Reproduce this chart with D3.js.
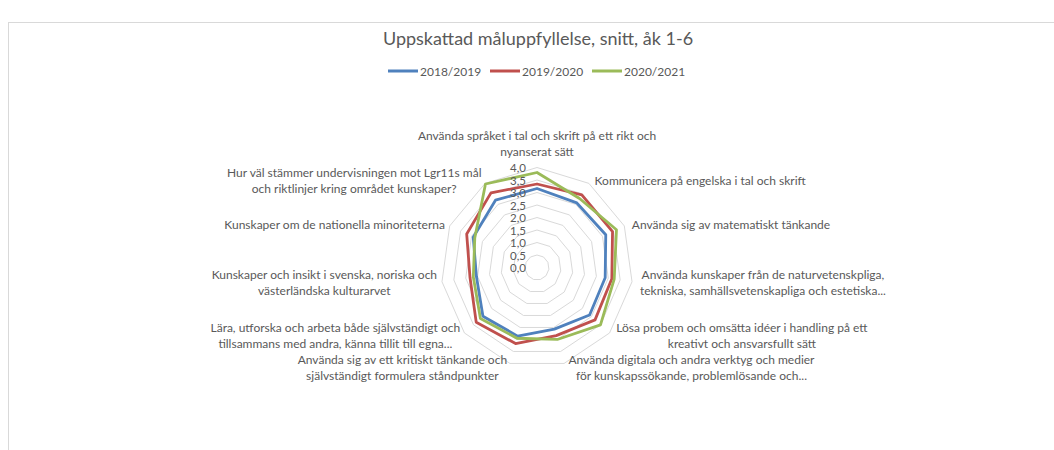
<!DOCTYPE html>
<html><head><meta charset="utf-8">
<script src="https://cdn.jsdelivr.net/npm/d3@7"></script>
<style>
body{margin:0;background:#fff}
svg text{font-family:Lato,'Liberation Sans',sans-serif;fill:#595959}
</style>
</head><body><svg id="c" width="1054" height="450"></svg>
<script>
const title = "Uppskattad måluppfyllelse, snitt, åk 1-6";
const categories = [
  "Använda språket i tal och skrift på ett rikt och\nnyanserat sätt",
  "Kommunicera på engelska i tal och skrift",
  "Använda sig av matematiskt tänkande",
  "Använda kunskaper från de naturvetenskpliga,\ntekniska, samhällsvetenskapliga och estetiska...",
  "Lösa probem och omsätta idéer i handling på ett\nkreativt och ansvarsfullt sätt",
  "Använda digitala och andra verktyg och medier\nför kunskapssökande, problemlösande och...",
  "Använda sig av ett kritiskt tänkande och\nsjälvständigt formulera ståndpunkter",
  "Lära, utforska och arbeta både självständigt och\ntillsammans med andra, känna tillit till egna...",
  "Kunskaper och insikt i svenska, noriska och\nvästerländska kulturarvet",
  "Kunskaper om de nationella minoriteterna",
  "Hur väl stämmer undervisningen mot Lgr11s mål\noch riktlinjer kring området kunskaper?"
];
const seriesNames = ["2018/2019", "2019/2020", "2020/2021"];
const values2018 = [3.16, 3.07, 3.15, 2.87, 2.90, 2.57, 2.86, 2.98, 2.55, 2.92, 3.20];
const values2019 = [3.34, 3.45, 3.46, 3.15, 3.20, 2.84, 3.17, 3.35, 2.82, 3.22, 3.55];
const values2020 = [3.80, 3.28, 3.64, 3.25, 3.50, 3.00, 2.95, 3.12, 2.68, 2.85, 3.97];
const tickValues = [0, 0.5, 1, 1.5, 2, 2.5, 3, 3.5, 4];
const colors = ["#4F81BD", "#C0504D", "#9BBB59"];

const svg = d3.select("#c");
const cx = 537, cy = 267.5;
const n = categories.length;
const rx = d3.scaleLinear().domain([0, 4]).range([0, 96]);
const ry = d3.scaleLinear().domain([0, 4]).range([0, 100]);
const ang = d3.scaleLinear().domain([0, n]).range([0, 2 * Math.PI]);
const px = (i, v) => cx + rx(v) * Math.sin(ang(i));
const py = (i, v) => cy - ry(v) * Math.cos(ang(i));

// frame
svg.append("rect").attr("x", 8.5).attr("y", 22.5).attr("width", 1100).attr("height", 500)
  .attr("fill", "none").attr("stroke", "#d9d9d9");

// title
svg.append("text").attr("x", 538).attr("y", 38).attr("text-anchor", "middle")
  .attr("dominant-baseline", "central").style("font-size", "18px").text(title);

// legend
const legX = d3.scalePoint().domain(seriesNames).range([388, 592]);
const leg = svg.append("g").selectAll("g").data(seriesNames).join("g")
  .attr("transform", d => `translate(${legX(d)},71)`);
leg.append("line").attr("x1", 0).attr("x2", 30).attr("stroke", (d, i) => colors[i]).attr("stroke-width", 3);
leg.append("text").attr("x", 32).attr("dominant-baseline", "central").style("font-size", "12px").text(d => d);

// grid rings
const ring = d3.line().curve(d3.curveLinearClosed);
svg.append("g").selectAll("path").data(tickValues.filter(t => t > 0)).join("path")
  .attr("d", t => ring(d3.range(n).map(i => [px(i, t), py(i, t)])))
  .attr("fill", "none").attr("stroke", "#d9d9d9").attr("stroke-width", 1);

// series
const allValues = [values2018, values2019, values2020];
svg.append("g").selectAll("path").data(allValues).join("path")
  .attr("d", vals => ring(vals.map((v, i) => [px(i, v), py(i, v)])))
  .attr("fill", "none").attr("stroke", (d, i) => colors[i]).attr("stroke-width", 2.8)
  .attr("stroke-linejoin", "round");

// tick labels
svg.append("g").selectAll("text").data(tickValues).join("text")
  .attr("x", cx - 11).attr("y", t => cy - ry(t)).attr("text-anchor", "end")
  .attr("dominant-baseline", "central").style("font-size", "11.5px")
  .text(t => d3.format(".1f")(t).replace(".", ","));

// category labels
const lh = 16;
const lg = svg.append("g");
categories.forEach((c, i) => {
  const lines = c.split("\n");
  const a = ang(i), s = Math.sin(a), co = Math.cos(a);
  const vx = px(i, 4), vy = py(i, 4);
  const t = lg.append("text").style("font-size", "12px");
  const tsp = lines.map(l => t.append("tspan").text(l));
  const widths = tsp.map(ts => ts.node().getComputedTextLength());
  const w = d3.max(widths);
  let left;
  if (Math.abs(s) < 0.05) left = vx - w / 2;
  else if (s > 0) left = vx + 3 + 5 * Math.abs(s);
  else left = vx - 2 - 3 * Math.abs(s) - w;
  let centerY;
  if (Math.abs(s) < 0.05) centerY = vy - 8 - lines.length * lh / 2;
  else centerY = vy - 4 * co;
  const top = centerY - (lines.length - 1) * lh / 2;
  tsp.forEach((ts, k) => ts.attr("x", left + w / 2).attr("y", top + k * lh)
    .attr("text-anchor", "middle").attr("dominant-baseline", "central"));
});
</script></body></html>
